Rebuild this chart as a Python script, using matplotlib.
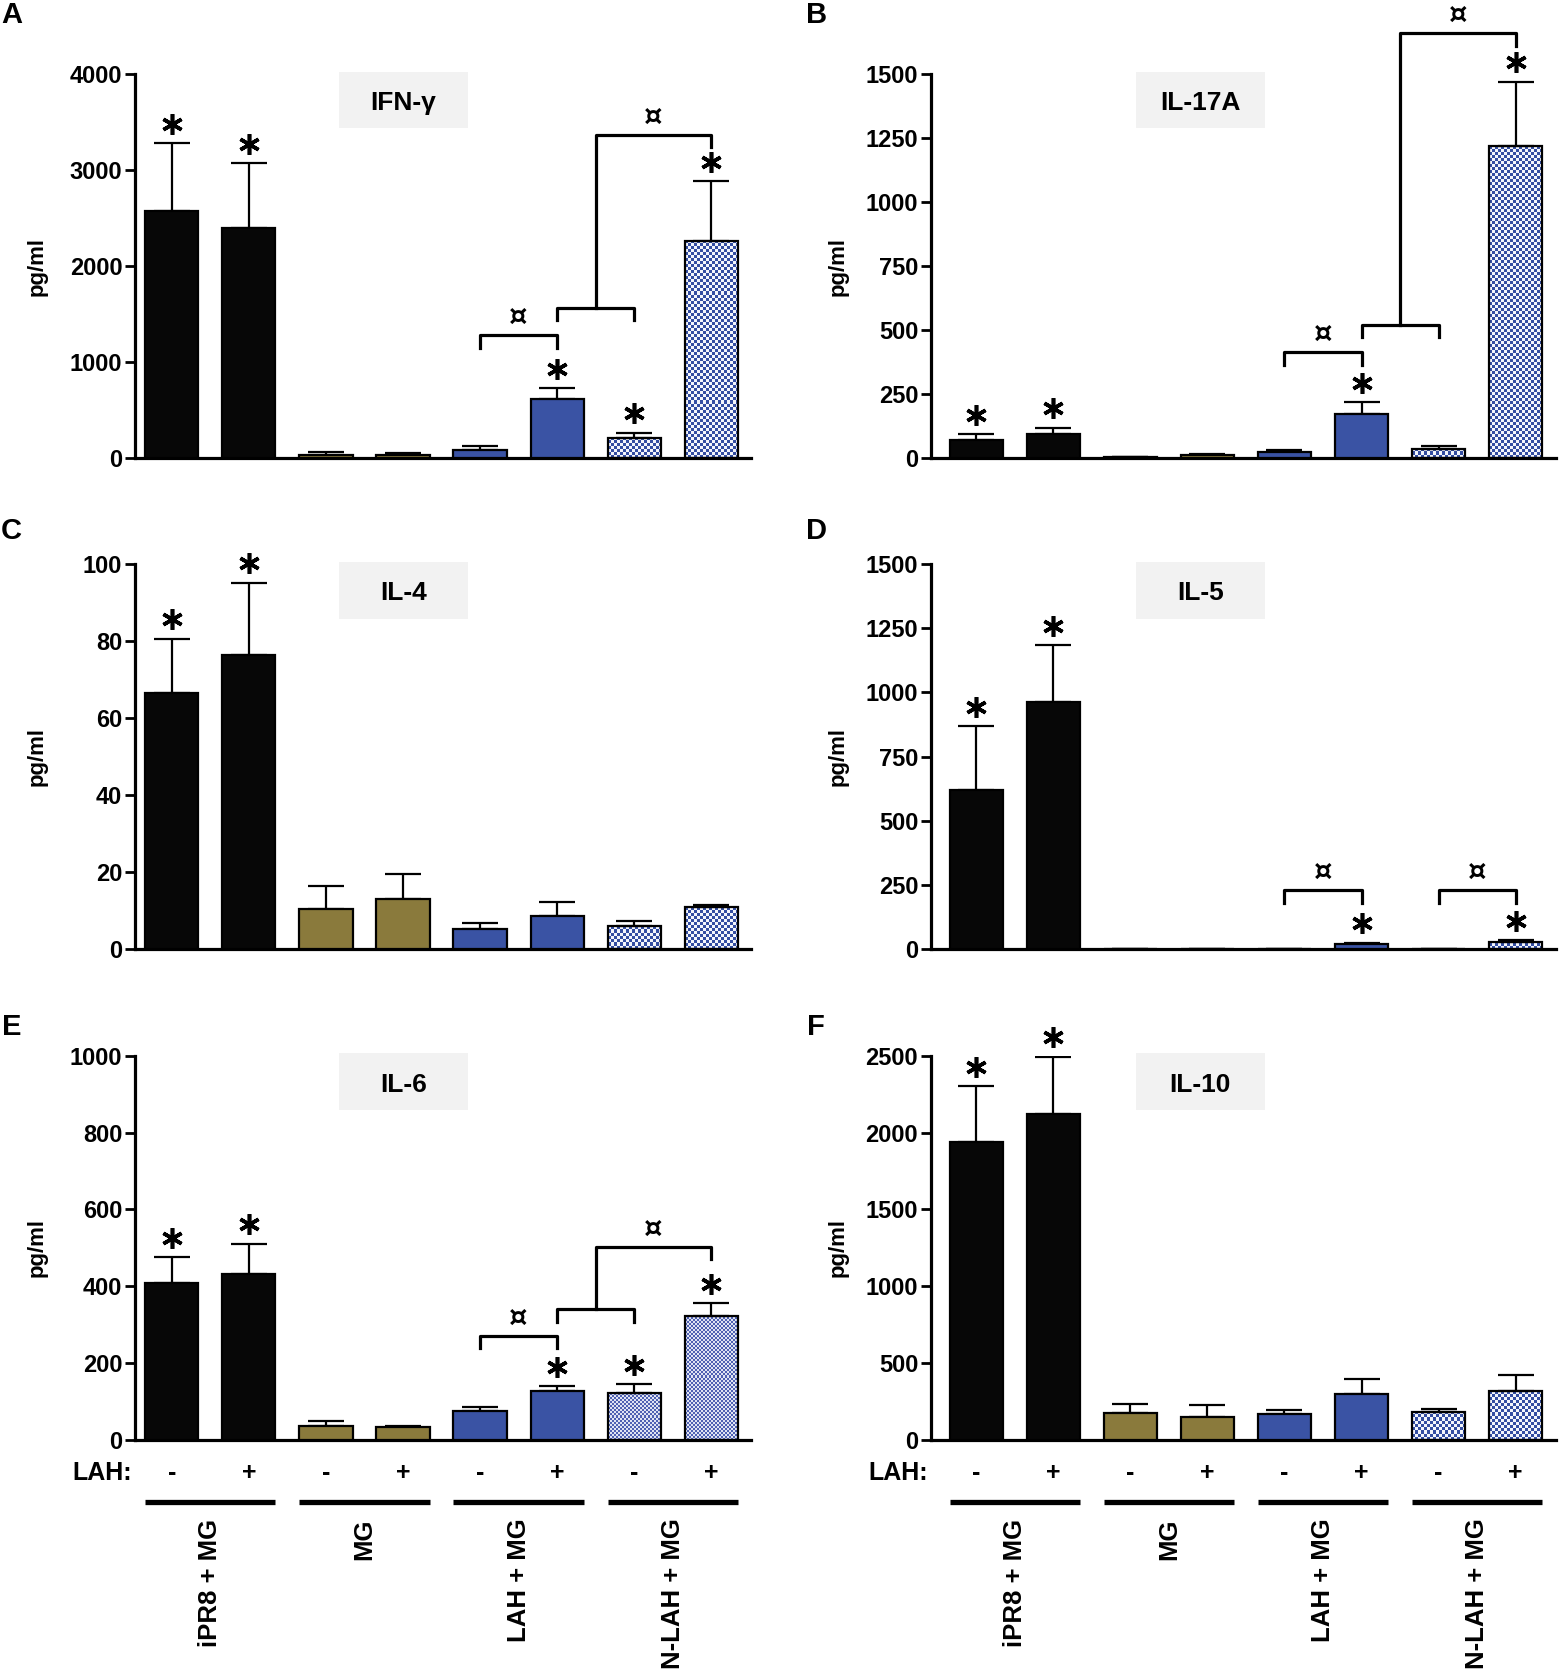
import numpy as np
import matplotlib
matplotlib.use("Agg")
import matplotlib.pyplot as plt
from matplotlib.patches import Rectangle
from matplotlib.colors import to_rgb
import matplotlib.transforms as mtransforms

# ---------------- data ----------------
groups = ["iPR8 + MG", "MG", "LAH + MG", "N-LAH + MG"]
lah_signs = ["-", "+", "-", "+", "-", "+", "-", "+"]
cytokines = ["IFN-γ", "IL-17A", "IL-4", "IL-5", "IL-6", "IL-10"]
panel_letters = ["A", "B", "C", "D", "E", "F"]

ifng_mean = [2575, 2398, 33, 40, 88, 619, 210, 2265]
ifng_sem = [705, 675, 30, 15, 40, 110, 55, 620]
il17a_mean = [70, 95, 5, 12, 25, 174, 37, 1218]
il17a_sem = [25, 25, 2, 6, 8, 46, 13, 253]
il4_mean = [66.5, 76.5, 10.2, 12.9, 5.0, 8.4, 5.8, 10.8]
il4_sem = [14.2, 18.8, 6.2, 6.6, 1.6, 3.7, 1.3, 0.5]
il5_mean = [618, 962, 0, 0, 0, 18, 0, 25]
il5_sem = [250, 223, 0, 0, 0, 5, 0, 7]
il6_mean = [409, 431, 37, 33, 75, 128, 122, 323]
il6_sem = [66, 80, 13, 4, 10, 12, 23, 33]
il10_mean = [1940, 2120, 172, 150, 165, 297, 183, 318]
il10_sem = [360, 373, 63, 78, 30, 100, 20, 105]

means = [ifng_mean, il17a_mean, il4_mean, il5_mean, il6_mean, il10_mean]
sems = [ifng_sem, il17a_sem, il4_sem, il5_sem, il6_sem, il10_sem]
y_max = [4000, 1500, 100, 1500, 1000, 2500]
y_step = [1000, 250, 20, 250, 200, 500]

# significance vs control (*)
star_bars = [[0, 1, 5, 6, 7], [0, 1, 5, 7], [0, 1], [0, 1, 5, 7], [0, 1, 5, 6, 7], [0, 1]]
# simple brackets: (i, j, level)
simple_brackets = [[(4, 5, 1282)], [(4, 5, 414)], [], [(4, 5, 228), (6, 7, 228)], [(4, 5, 271)], []]
# compound brackets: (i, j, lower level, k, top level)
compound_brackets = [[(5, 6, 1569, 7, 3370)], [(5, 6, 522, 7, 1662)], [], [], [(5, 6, 340, 7, 503)], []]

# ---------------- style ----------------
BLACK = "#070707"
OLIVE = "#8a7a3c"
BLUE = "#3a53a4"
bar_colors = [BLACK, BLACK, OLIVE, OLIVE, BLUE, BLUE, None, None]

TICKFONT = ["Liberation Sans Narrow", "Liberation Sans", "DejaVu Sans"]
MAINFONT = ["Liberation Sans", "DejaVu Sans"]
plt.rcParams["font.family"] = MAINFONT

W, H = 1470.0, 1573.0
fig = plt.figure(figsize=(15.6, 16.69), dpi=100)

col_left = [127 / W, 877 / W]
col_width = [(708 - 127) / W, (1466 - 877) / W]
row_bottom = [1 - 432 / H, 1 - 894 / H, 1 - 1357 / H]
row_height = 362 / H
col_xlim = [(-0.48, 7.52), (-0.59, 7.52)]
col_box = [(0.332, 0.540), (0.328, 0.535)]
letter_x = [11 / W, 769 / W]
letter_y = [1 - 14 / H, 1 - 500 / H, 1 - 968 / H]
ylabel_x = [35 / W, 790 / W]

x = np.arange(8)
bw = 0.69


def checker(ax, xc, h, w, cell, c1, c2):
    if h <= 0:
        return
    x0, x1 = xc - w / 2, xc + w / 2
    p0 = ax.transData.transform((x0, 0))
    p1 = ax.transData.transform((x1, h))
    nx = max(1, int(round((p1[0] - p0[0]) / cell)))
    ny = max(1, int(round((p1[1] - p0[1]) / cell)))
    ii, jj = np.indices((ny, nx))
    mask = ((ii + jj) % 2).astype(bool)
    img = np.where(mask[..., None], np.array(to_rgb(c1)), np.array(to_rgb(c2)))
    ax.imshow(img, extent=(x0, x1, 0, h), origin="lower", interpolation="nearest",
              aspect="auto", zorder=2)


for p in range(6):
    r, c = divmod(p, 2)
    ax = fig.add_axes([col_left[c], row_bottom[r], col_width[c], row_height])
    ymax = y_max[p]
    ax.set_xlim(*col_xlim[c])
    ax.set_ylim(0, ymax)
    m = np.array(means[p], dtype=float)
    s = np.array(sems[p], dtype=float)

    # hatched (checkered) bars
    for i in (6, 7):
        if p == 4:
            checker(ax, x[i], m[i], bw, 2, "#4f61b3", "#dfe3f3")
        else:
            checker(ax, x[i], m[i], bw, 3, "#344ea2", "#f4f6fc")
    ax.set_xlim(*col_xlim[c])
    ax.set_ylim(0, ymax)

    fcs = [bc if bc is not None else "none" for bc in bar_colors]
    ax.bar(x, m, width=bw, color=fcs, edgecolor="black", linewidth=1.6, zorder=3)
    ax.errorbar(x, m, yerr=[np.zeros_like(s), s], fmt="none", ecolor="black",
                elinewidth=1.6, capsize=13, capthick=1.6, zorder=2.5)

    # axes styling
    for sp in ("top", "right"):
        ax.spines[sp].set_visible(False)
    ax.spines["left"].set_linewidth(2.3)
    ax.spines["bottom"].set_linewidth(2.3)
    ax.set_xticks([])
    ax.set_yticks(np.arange(0, ymax + 1e-9, y_step[p]))
    ax.set_yticklabels([f"{int(v)}" for v in np.arange(0, ymax + 1e-9, y_step[p])],
                       fontfamily=TICKFONT, fontweight="bold", fontsize=17)
    ax.tick_params(axis="y", length=7, width=2, pad=2)

    # title box
    bx0, bx1 = col_box[c]
    ax.add_patch(Rectangle((bx0, 0.859), bx1 - bx0, 0.147, transform=ax.transAxes,
                           facecolor="#f2f2f2", edgecolor="none", clip_on=False, zorder=1))
    ax.text((bx0 + bx1) / 2, 0.925, cytokines[p], transform=ax.transAxes, ha="center",
            va="center", fontsize=19, fontweight="bold", zorder=2)

    # stars
    star_tr = mtransforms.offset_copy(ax.transData, fig=fig, y=14, units="points")
    for i in star_bars[p]:
        ax.plot(x[i], m[i] + s[i], marker=(6, 2, 0), markersize=15, mew=2.6,
                color="black", transform=star_tr, clip_on=False, zorder=5)

    leg = ymax * 12 / 362.0
    cur_tr = mtransforms.offset_copy(ax.transData, fig=fig, y=3, units="points")
    lk = dict(color="black", lw=2.3, clip_on=False, zorder=5, solid_capstyle="projecting")
    ck = dict(ha="center", va="bottom", fontsize=21, fontweight="bold",
              fontfamily=["DejaVu Sans"])
    for (i, j, lev) in simple_brackets[p]:
        ax.plot([x[i], x[i], x[j], x[j]], [lev - leg, lev, lev, lev - leg], **lk)
        ax.text((x[i] + x[j]) / 2, lev, "¤", transform=cur_tr, **ck)
    for (i, j, lev, k, top) in compound_brackets[p]:
        mid = (x[i] + x[j]) / 2
        ax.plot([x[i], x[i], x[j], x[j]], [lev - leg, lev, lev, lev - leg], **lk)
        ax.plot([mid, mid, x[k], x[k]], [lev, top, top, top - leg], **lk)
        ax.text((mid + x[k]) / 2, top, "¤", transform=cur_tr, **ck)

    # labels
    fig.text(letter_x[c], letter_y[r], panel_letters[p], ha="center", va="center",
             fontsize=21, fontweight="bold")
    fig.text(ylabel_x[c], row_bottom[r] + row_height / 2, "pg/ml", rotation=90,
             ha="center", va="center", fontsize=16, fontweight="bold")

    # bottom annotations
    if r == 2:
        bt = mtransforms.blended_transform_factory(ax.transData, ax.transAxes)
        ax.text(-0.005, -0.086, "LAH:", transform=ax.transAxes, ha="right", va="center",
                fontsize=18, fontweight="bold", fontfamily=TICKFONT)
        for i in range(8):
            ax.text(x[i], -0.086, lah_signs[i], transform=bt, ha="center", va="center",
                    fontsize=18, fontweight="bold", fontfamily=TICKFONT)
        for g, name in enumerate(groups):
            a, b = 2 * g, 2 * g + 1
            ax.plot([x[a] - bw / 2, x[b] + bw / 2], [-0.163, -0.163], transform=bt,
                    color="black", lw=3.8, clip_on=False, solid_capstyle="butt")
            ax.text((x[a] + x[b]) / 2, -0.205, name, transform=bt, rotation=90,
                    ha="center", va="top", fontsize=18.5, fontweight="bold")

fig.savefig("out.png", dpi=100, facecolor="white")
